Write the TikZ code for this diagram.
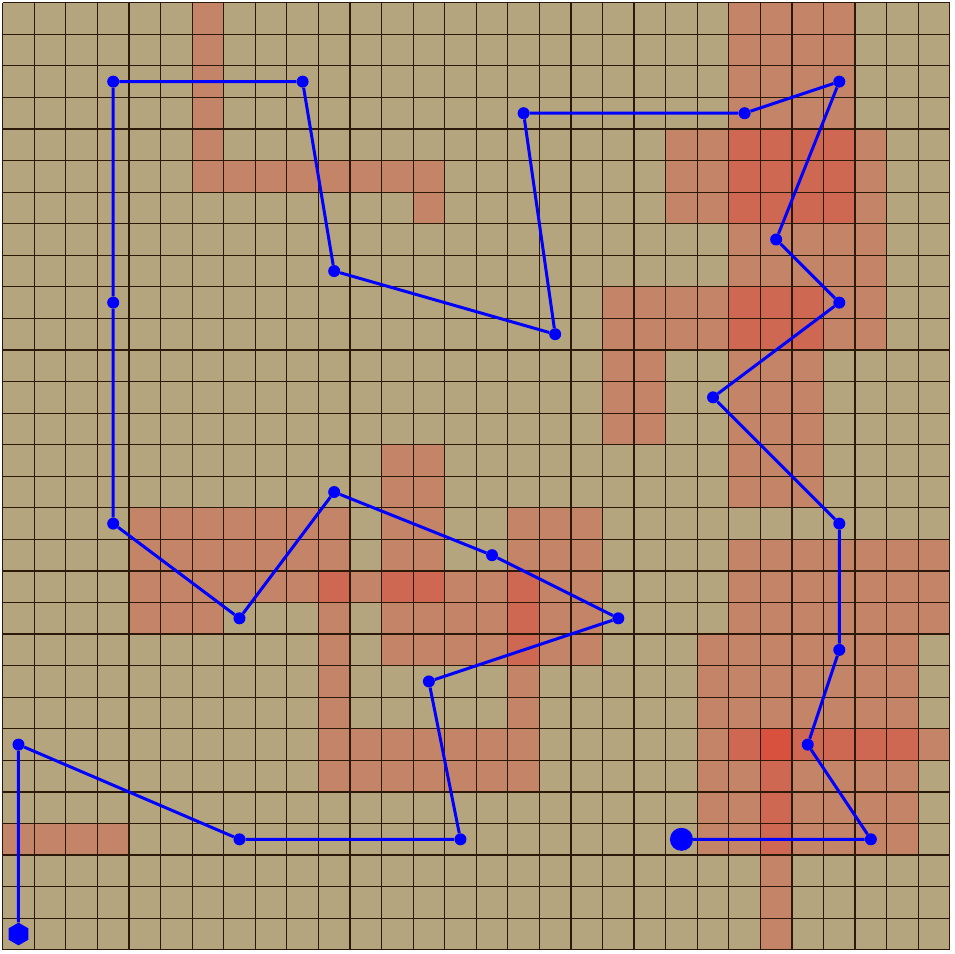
\documentclass[tikz,border=0pt]{standalone}
\usetikzlibrary{shapes.geometric}
\definecolor{tanbg}{RGB}{180,165,127}
\definecolor{heatL}{RGB}{196,132,104}
\definecolor{heatM}{RGB}{206,104,83}
\definecolor{heatD}{RGB}{216,80,62}
\definecolor{gridc}{RGB}{45,25,10}
\definecolor{routec}{RGB}{0,0,255}
\tikzset{
  gridline/.style={draw=gridc, line width=1.1pt},
  routeline/.style={draw=routec, line width=2.7pt},
  waypt/.style={circle, fill=routec, inner sep=0pt, minimum size=0.38cm},
  endpt/.style={circle, fill=routec, inner sep=0pt, minimum size=0.73cm},
  startpt/.style={regular polygon, regular polygon sides=6, shape border rotate=30, fill=routec, inner sep=0pt, minimum size=0.72cm},
}
\begin{document}
\begin{tikzpicture}[x=1cm,y=-1cm]
\useasboundingbox (-0.0855,-0.0855) rectangle (30.133,30.133);
\fill[white] (-0.0855,-0.0855) rectangle (30.133,30.133);
\fill[tanbg] (0,0) rectangle (30,30);
% light cells
\foreach \r/\a/\b in {0/6/6, 0/23/26, 1/6/6, 1/23/26, 2/6/6, 2/23/26, 3/6/6, 3/23/26,
  4/6/6, 4/21/22, 4/27/27, 5/6/13, 5/21/22, 5/27/27, 6/13/13, 6/21/22, 6/27/27,
  7/23/27, 8/23/27, 9/19/22, 9/26/27, 10/19/22, 10/26/27,
  11/19/20, 11/23/25, 12/19/20, 12/23/25, 13/19/20, 13/23/25,
  14/12/13, 14/23/25, 15/12/13, 15/23/25,
  16/4/10, 16/12/13, 16/16/18,
  17/4/10, 17/12/13, 17/16/18, 17/23/29,
  18/4/9, 18/11/11, 18/14/15, 18/17/18, 18/23/29,
  19/4/6, 19/10/10, 19/12/15, 19/17/18, 19/23/29,
  20/10/10, 20/12/15, 20/17/18, 20/22/28,
  21/10/10, 21/16/16, 21/22/28, 22/10/10, 22/16/16, 22/22/28,
  23/10/16, 23/22/22, 23/29/29,
  24/10/16, 24/22/23, 24/25/28, 25/22/23, 25/25/28,
  26/0/3, 26/22/23, 26/25/28, 27/24/24, 28/24/24, 29/24/24}
  \fill[heatL] (\a,\r) rectangle (\b+1,\r+1);
% medium cells
\foreach \r/\a/\b in {4/23/26, 5/23/26, 6/23/26, 9/23/25, 10/23/25,
  18/10/10, 18/12/13, 18/16/16, 19/16/16, 20/16/16,
  23/23/23, 23/25/28, 24/24/24, 25/24/24, 26/24/24}
  \fill[heatM] (\a,\r) rectangle (\b+1,\r+1);
% dark cell
\fill[heatD] (24,23) rectangle (25,24);
% grid
\draw[gridline] (0,0) grid (30,30);
% route nodes
\node[startpt] (p0) at (0.5,29.5) {};
\foreach \i/\c/\r in {1/0/23, 2/7/26, 3/14/26, 4/13/21, 5/19/19, 6/15/17, 7/10/15,
  8/7/19, 9/3/16, 10/3/9, 11/3/2, 12/9/2, 13/10/8, 14/17/10, 15/16/3, 16/23/3,
  17/26/2, 18/24/7, 19/26/9, 20/22/12, 21/26/16, 22/26/20, 23/25/23, 24/27/26}
  \node[waypt] (p\i) at (\c+0.5,\r+0.5) {};
\node[endpt] (p25) at (21.5,26.5) {};
% route
\draw[routeline] (p0) -- (p1) -- (p2) -- (p3) -- (p4) -- (p5) -- (p6) -- (p7) -- (p8)
  -- (p9) -- (p10) -- (p11) -- (p12) -- (p13) -- (p14) -- (p15) -- (p16) -- (p17)
  -- (p18) -- (p19) -- (p20) -- (p21) -- (p22) -- (p23) -- (p24) -- (p25);
\end{tikzpicture}
\end{document}
